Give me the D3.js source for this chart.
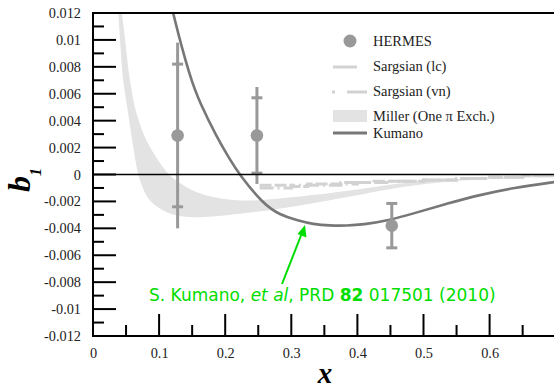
<!DOCTYPE html>
<html><head><meta charset="utf-8">
<script src="https://cdn.jsdelivr.net/npm/d3@7"></script>
<style>html,body{margin:0;padding:0;background:#fff;}svg{display:block;}</style>
</head><body>
<script>
// ---- data ----
const hermesX = [0.128, 0.248, 0.452];
const hermesY = [0.0029, 0.0029, -0.0038];
const hermesStat = [0.0053, 0.0028, 0.00165];
const hermesTot = [0.0069, 0.0036, 0.00165];

const kumanoX = [0.115, 0.1206, 0.1467, 0.1619, 0.1871, 0.2073, 0.2214, 0.2576, 0.2829, 0.3082, 0.3333, 0.3585, 0.3838, 0.4089, 0.4443, 0.4846, 0.5351, 0.5855, 0.6359, 0.70];
const kumanoY = [0.0135, 0.0120, 0.0072, 0.0053, 0.0028, 0.0011, 0.0, -0.0022, -0.0030, -0.0034, -0.0037, -0.0038, -0.0038, -0.00372, -0.00345, -0.00290, -0.00217, -0.00151, -0.00099, -0.00055];

const millerX = [0.036, 0.0434, 0.0560, 0.0661, 0.0812, 0.0988, 0.1165, 0.1418, 0.1720, 0.2224, 0.3132, 0.3888, 0.4644, 0.5401, 0.70];
const millerHi = [0.0135, 0.0120, 0.0070, 0.0045, 0.0025, 0.00104, -0.00007, -0.00094, -0.00156, -0.00193, -0.00163, -0.00119, -0.00067, -0.00037, -0.00005];
const millerLoX = [0.036, 0.0383, 0.0458, 0.0534, 0.0610, 0.0711, 0.0862, 0.1115, 0.1366, 0.1619, 0.2224, 0.3132, 0.3888, 0.4644, 0.5401, 0.70];
const millerLo = [0.0135, 0.0120, 0.0070, 0.0045, 0.0020, -0.00045, -0.00193, -0.00280, -0.00312, -0.00317, -0.00292, -0.00230, -0.00163, -0.00096, -0.00052, -0.00012];

const sargLcX = [0.252, 0.275, 0.30, 0.325, 0.35, 0.375, 0.40, 0.425, 0.45, 0.50, 0.55, 0.60, 0.65, 0.70];
const sargLcY = [-0.0008, -0.0008, -0.0009, -0.0007, -0.0007, -0.0006, -0.0006, -0.0005, -0.0005, -0.0004, -0.0003, -0.0002, -0.0001, -0.00005];
const sargVnX = [0.252, 0.275, 0.30, 0.325, 0.35, 0.375, 0.40, 0.425, 0.45, 0.50, 0.55, 0.60, 0.65, 0.70];
const sargVnY = [-0.0010, -0.0010, -0.0008, -0.0008, -0.0008, -0.0007, -0.0006, -0.0006, -0.0005, -0.0004, -0.0003, -0.0002, -0.0001, -0.00005];

const yTicks = [0.012, 0.01, 0.008, 0.006, 0.004, 0.002, 0, -0.002, -0.004, -0.006, -0.008, -0.01, -0.012];
const yTickLabels = ["0.012","0.01","0.008","0.006","0.004","0.002","0","-0.002","-0.004","-0.006","-0.008","-0.01","-0.012"];
const xTicks = [0, 0.1, 0.2, 0.3, 0.4, 0.5, 0.6];
const xTickLabels = ["0","0.1","0.2","0.3","0.4","0.5","0.6"];
const legendLabels = ["HERMES", "Sargsian (lc)", "Sargsian (vn)", "Miller (One \u03c0 Exch.)", "Kumano"];

// ---- layout ----
const W = 554, H = 388;
const L = 93, T = 13, B = 336;
const SERIF = "'Liberation Serif'";
const x = d3.scaleLinear().domain([0, 0.7]).range([L, L + 0.7 * 661]);
const y = d3.scaleLinear().domain([-0.012, 0.012]).range([B, T]);

const svg = d3.select("body").append("svg").attr("width", W).attr("height", H);
svg.append("defs").append("clipPath").attr("id", "clip")
  .append("rect").attr("x", L).attr("y", T).attr("width", W - L).attr("height", B - T);
const plot = svg.append("g").attr("clip-path", "url(#clip)");

// Miller band: upper edge left->right, lower edge right->left
const upperPts = millerX.map((d, i) => [x(d), y(millerHi[i])]);
const lowerPts = millerLoX.map((d, i) => [x(d), y(millerLo[i])]).reverse();
const pth = d3.path();
d3.line().curve(d3.curveCatmullRom.alpha(0.5)).context(pth)(upperPts);
const p2 = d3.path();
d3.line().curve(d3.curveCatmullRom.alpha(0.5)).context(p2)(lowerPts);
plot.append("path").attr("d", pth.toString() + p2.toString().replace(/^M/, "L") + "Z")
  .attr("fill", "#e3e3e3").attr("stroke", "none");

// zero line
svg.append("line").attr("x1", L).attr("x2", W).attr("y1", y(0)).attr("y2", y(0))
  .attr("stroke", "#000").attr("stroke-width", 1.5);

// Sargsian lines
plot.append("path").datum(sargLcX.map((d, i) => [x(d), y(sargLcY[i])]))
  .attr("d", d3.line().curve(d3.curveStepAfter))
  .attr("fill", "none").attr("stroke", "#d2d2d2").attr("stroke-width", 3)
  .attr("stroke-dasharray", "12,3");
plot.append("path").datum(sargVnX.map((d, i) => [x(d), y(sargVnY[i])]))
  .attr("d", d3.line().curve(d3.curveStepAfter))
  .attr("fill", "none").attr("stroke", "#d2d2d2").attr("stroke-width", 3)
  .attr("stroke-dasharray", "14,4,2,4");

// Kumano curve
plot.append("path").datum(kumanoX.map((d, i) => [x(d), y(kumanoY[i])]))
  .attr("d", d3.line().curve(d3.curveBasis))
  .attr("fill", "none").attr("stroke", "#777").attr("stroke-width", 2.6);

// HERMES points
const hg = plot.append("g");
hermesX.forEach((xv, i) => {
  const cx = x(xv);
  hg.append("line").attr("x1", cx).attr("x2", cx)
    .attr("y1", y(hermesY[i] - hermesTot[i])).attr("y2", y(hermesY[i] + hermesTot[i]))
    .attr("stroke", "#999").attr("stroke-width", 3);
  [hermesY[i] - hermesStat[i], hermesY[i] + hermesStat[i]].forEach(v => {
    hg.append("line").attr("x1", cx - 5.5).attr("x2", cx + 5.5)
      .attr("y1", y(v)).attr("y2", y(v)).attr("stroke", "#999").attr("stroke-width", 3);
  });
  hg.append("circle").attr("cx", cx).attr("cy", y(hermesY[i])).attr("r", 6.3).attr("fill", "#999");
});

// axes
const ax = svg.append("g").attr("stroke", "#000").attr("stroke-width", 2);
ax.append("line").attr("x1", L).attr("x2", L).attr("y1", T).attr("y2", B);
ax.append("line").attr("x1", L - 1).attr("x2", W).attr("y1", B).attr("y2", B);
ax.append("line").attr("x1", L - 1).attr("x2", W).attr("y1", T).attr("y2", T);
d3.range(-12, 13).forEach(k => {
  const v = k / 1000;
  const len = (k % 2 === 0) ? 23 : 11;
  ax.append("line").attr("x1", L).attr("x2", L + len).attr("y1", y(v)).attr("y2", y(v));
});
d3.range(1, 14).forEach(k => {
  const v = k * 0.05;
  const len = (k % 2 === 0) ? 22 : 11;
  ax.append("line").attr("x1", x(v)).attr("x2", x(v)).attr("y1", B).attr("y2", B - len);
});

// tick labels
const yAx = d3.axisLeft(y).tickValues(yTicks).tickFormat((d, i) => yTickLabels[i]).tickSize(0).tickPadding(12);
const gy = svg.append("g").attr("transform", `translate(${L},0)`).call(yAx);
gy.select(".domain").remove();
gy.selectAll("text").style("font-family", SERIF).style("font-size", "14.3px").attr("fill", "#222");
const xAx = d3.axisBottom(x).tickValues(xTicks).tickFormat((d, i) => xTickLabels[i]).tickSize(0).tickPadding(12);
const gx = svg.append("g").attr("transform", `translate(0,${B})`).call(xAx);
gx.select(".domain").remove();
gx.selectAll("text").style("font-family", SERIF).style("font-size", "14.3px").attr("fill", "#222");

// axis titles
svg.append("text").attr("x", 325).attr("y", 383).attr("text-anchor", "middle")
  .style("font-family", SERIF).style("font-style", "italic").style("font-weight", "bold").style("font-size", "29px").text("x");
const yl = svg.append("text").attr("transform", "translate(30,180) rotate(-90)").attr("text-anchor", "middle")
  .style("font-family", SERIF).style("font-style", "italic").style("font-weight", "bold").style("font-size", "32px");
yl.append("tspan").text("b");
yl.append("tspan").style("font-size", "16px").attr("dy", 11).text("1");

// legend
const lg = svg.append("g");
const ly = [41, 66, 91, 116, 133];
lg.append("circle").attr("cx", 350).attr("cy", ly[0]).attr("r", 6.5).attr("fill", "#999");
lg.append("line").attr("x1", 333).attr("x2", 357).attr("y1", ly[1] + 1).attr("y2", ly[1] + 1).attr("stroke", "#d2d2d2").attr("stroke-width", 3);
lg.append("line").attr("x1", 332).attr("x2", 335).attr("y1", ly[2] + 1).attr("y2", ly[2] + 1).attr("stroke", "#d2d2d2").attr("stroke-width", 3);
lg.append("line").attr("x1", 347).attr("x2", 367).attr("y1", ly[2] + 1).attr("y2", ly[2] + 1).attr("stroke", "#d2d2d2").attr("stroke-width", 3);
lg.append("rect").attr("x", 333).attr("y", 110).attr("width", 34).attr("height", 12).attr("fill", "#e3e3e3");
lg.append("line").attr("x1", 333).attr("x2", 367).attr("y1", ly[4]).attr("y2", ly[4]).attr("stroke", "#777").attr("stroke-width", 3);
legendLabels.forEach((t, i) => {
  lg.append("text").attr("x", 373).attr("y", ly[i] + 5)
    .style("font-family", SERIF).style("font-size", "14.5px").attr("fill", "#222").text(t);
});

// annotation
const ann = svg.append("text").attr("x", 149).attr("y", 301)
  .style("font-family", "'DejaVu Sans'").style("font-size", "17px").attr("fill", "#00dd00");
ann.append("tspan").text("S. Kumano, ");
ann.append("tspan").style("font-style", "italic").text("et al");
ann.append("tspan").text(", PRD ");
ann.append("tspan").style("font-weight", "bold").text("82");
ann.append("tspan").text(" 017501 (2010)");
svg.append("line").attr("x1", 282).attr("y1", 284).attr("x2", 302).attr("y2", 233)
  .attr("stroke", "#00dd00").attr("stroke-width", 2);
svg.append("path").attr("d", "M305,225 L297.5,234 L306.5,237.5 Z").attr("fill", "#00dd00");
</script>
</body></html>
